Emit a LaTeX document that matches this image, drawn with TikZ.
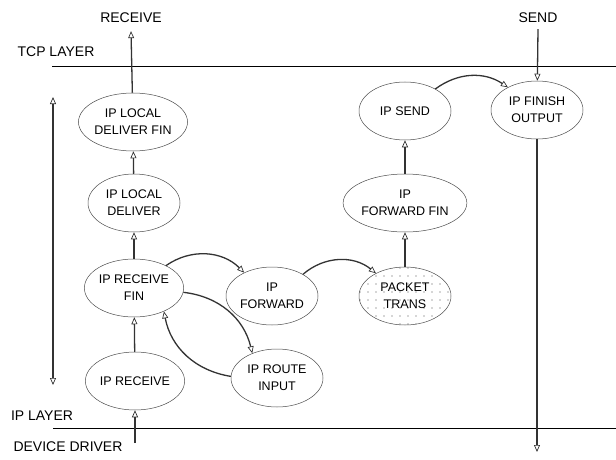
\documentclass[tikz,border=0pt]{standalone}
\usepackage{fontspec}
\setmainfont{Liberation Sans}
\usetikzlibrary{arrows.meta,shapes.geometric,patterns.meta}

\begin{document}
\begin{tikzpicture}[x=1pt,y=-1pt,
  blk/.style={ellipse,draw=black!70,line width=0.5pt,minimum width=92pt,minimum height=58pt,inner sep=0pt,align=center,font=\fontsize{12.5}{17}\selectfont},
  lbl/.style={font=\fontsize{14}{16}\selectfont,inner sep=0pt},
  tip/.tip={Triangle[open,length=7pt,width=6pt,line width=0.7pt]},
  flow/.style={line width=1.3pt,draw=black!80,-tip},
  layer/.style={line width=0.9pt}]
\useasboundingbox (0,0) rectangle (616,460);
% layer labels and boundaries
\node[lbl] (receive) at (131,18) {RECEIVE};
\node[lbl] (send) at (538,18) {SEND};
\node[lbl] (tcp) at (56,52) {TCP LAYER};
\node[lbl] (iplayer) at (42,416) {IP LAYER};
\node[lbl] (driver) at (68,447) {DEVICE DRIVER};
\coordinate (tcpl) at (52,66); \coordinate (tcpr) at (616,66);
\coordinate (ipl) at (53,428); \coordinate (ipr) at (616,428);
\draw[layer] (tcpl)--(tcpr);
\draw[layer] (ipl)--(ipr);
% receive path
\node[blk] (ldfin) at (133,122) {IP LOCAL\\DELIVER FIN};
\node[blk] (ldel) at (134,203) {IP LOCAL\\DELIVER};
\node[blk] (irfin) at (134,288) {IP RECEIVE\\FIN};
\node[blk] (irec) at (135,381) {IP RECEIVE};
\node[blk] (iroute) at (277,378) {IP ROUTE\\INPUT};
% forward / send path
\node[blk] (ifwd) at (272,296) {IP\\FORWARD};
\node[blk,pattern={Dots[distance=8pt,radius=0.55pt]},pattern color=black!70] (ptrans) at (405,296) {PACKET\\TRANS};
\node[blk] (iffin) at (405,203) {IP\\FORWARD FIN};
\node[blk] (isend) at (405,111) {IP SEND};
\node[blk] (ifo) at (537,110) {IP FINISH\\OUTPUT};
\coordinate (ddin) at (135,443);
\coordinate (ddout) at (537,452);
\coordinate (vtop) at (53,97);
\coordinate (vbot) at (53,385);
\draw[flow,tip-tip] (vtop)--(vbot);
\draw[flow] (ddin)--(irec);
\draw[flow] (irec)--(irfin);
\draw[flow] (irfin)--(ldel);
\draw[flow] (ldel)--(ldfin);
\draw[flow] (ldfin)--([yshift=-8pt]receive.south);
\draw[flow] (irfin.35) to[bend left=40] (ifwd.140);
\draw[flow] (irfin.-5) to[bend left=35] (iroute.135);
\draw[flow] (iroute.178) to[bend left=35] (irfin.-38);
\draw[flow] (ifwd.35) to[bend left=40] (ptrans.142);
\draw[flow] (ptrans)--(iffin);
\draw[flow] (iffin)--(isend);
\draw[flow] (isend.36) to[bend left=35] (ifo.142);
\draw[flow] ([yshift=-6pt]send.south)--(ifo);
\draw[flow] (ifo)--(ddout);
\end{tikzpicture}
\end{document}
